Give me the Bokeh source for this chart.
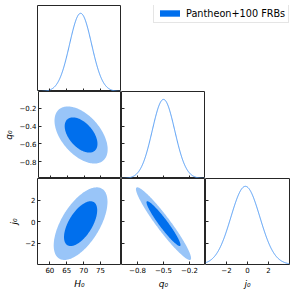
import numpy as np
from bokeh.plotting import figure
from bokeh.models import Range1d, LinearAxis, FixedTicker, Legend, LegendItem
from bokeh.layouts import column, row
from bokeh.embed import file_html
from bokeh.resources import INLINE

# ---------------- data ----------------
param_names = ["H0", "q0", "j0"]
param_labels = ["H₀", "q₀", "j₀"]
param_means = [69.1, -0.50, -0.20]
param_sigmas = [3.25, 0.13, 1.38]
corr_H0_q0 = -0.50
corr_H0_j0 = 0.60
corr_q0_j0 = -0.95
contour_probs = [0.95, 0.68]
param_ranges = [(56.35, 81.2), (-0.985, -0.015), (-4.0, 4.0)]
x_ticks = [[60, 65, 70, 75], [-0.8, -0.5, -0.2], [-2, 0, 2]]
x_tick_labels = [["60", "65", "70", "75"], ["−0.8", "−0.5", "−0.2"], ["−2", "0", "2"]]
y_ticks = [[60, 65, 70, 75], [-0.2, -0.4, -0.6, -0.8], [2, 0, -2]]
y_tick_labels = [["60", "65", "70", "75"], ["−0.2", "−0.4", "−0.6", "−0.8"], ["2", "0", "−2"]]
series_label = "Pantheon+100 FRBs"

# ---------------- styles ----------------
FONT = "DejaVu Sans"
TICK_FS = "7px"
LABEL_FS = "9px"
OUTER_COLOR = "#99C5F8"
INNER_COLOR = "#006FED"
LINE_COLOR = "#4d98f3"
FRAME_COLOR = "#262626"

LEFT, PW, BOTTOM, TOP, RIGHT = 37, 84, 27, 5, 1
PH = [86, 87, 86]

corr = {(0, 1): corr_H0_q0, (0, 2): corr_H0_j0, (1, 2): corr_q0_j0}


def new_fig(c, r, xr, yr):
    bl = LEFT if c == 0 else 0
    br = RIGHT if c == 2 else 0
    bt = TOP if r == 0 else 0
    bb = BOTTOM if r == 2 else 0
    p = figure(width=PW + bl + br, height=PH[r] + bt + bb,
               x_range=Range1d(*xr), y_range=Range1d(*yr),
               x_axis_type=None, y_axis_type=None,
               toolbar_location=None, output_backend="svg",
               min_border=0, min_border_left=bl, min_border_right=br,
               min_border_top=bt, min_border_bottom=bb)
    p.outline_line_color = FRAME_COLOR
    p.outline_line_width = 1
    p.background_fill_color = "white"
    p.border_fill_color = "white"
    return p


def add_axis(p, side, ticks, labels, show, label=None, y_range_name=None):
    kw = {}
    if y_range_name is not None:
        kw["y_range_name"] = y_range_name
    ax = LinearAxis(ticker=FixedTicker(ticks=ticks), **kw)
    ax.major_tick_in = 3
    ax.major_tick_out = 0
    ax.minor_tick_line_color = None
    ax.axis_line_color = None
    ax.major_tick_line_color = FRAME_COLOR
    ax.major_tick_line_width = 1
    if show:
        ax.major_label_overrides = {t: s for t, s in zip(ticks, labels)}
        ax.major_label_text_font = FONT
        ax.major_label_text_font_size = TICK_FS
        ax.major_label_text_color = "black"
        ax.major_label_standoff = 2
    else:
        ax.major_label_text_font_size = "0px"
        ax.major_label_text_color = None
        ax.major_label_standoff = 0
    if label is not None:
        ax.axis_label = label
        ax.axis_label_text_font = FONT
        ax.axis_label_text_font_size = LABEL_FS
        ax.axis_label_text_font_style = "italic"
        ax.axis_label_text_color = "black"
        ax.axis_label_standoff = 3
    p.add_layout(ax, side)
    return ax


def ellipse(i, j, prob):
    k = np.sqrt(-2.0 * np.log(1.0 - prob))
    si, sj = param_sigmas[i], param_sigmas[j]
    rho = corr[(i, j)]
    cov = np.array([[si * si, rho * si * sj], [rho * si * sj, sj * sj]])
    L = np.linalg.cholesky(cov)
    t = np.linspace(0, 2 * np.pi, 240)
    pts = (L @ np.vstack([np.cos(t), np.sin(t)])) * k
    return pts[0] + param_means[i], pts[1] + param_means[j]


figs = {}
for r in range(3):
    for c in range(r + 1):
        xlab = param_labels[c] if r == 2 else None
        ylab = param_labels[r] if (c == 0 and r > 0) else None
        if r == c:
            p = new_fig(c, r, param_ranges[c], (0, 1.1))
            xs = np.linspace(param_ranges[c][0], param_ranges[c][1], 400)
            ys = np.exp(-0.5 * ((xs - param_means[c]) / param_sigmas[c]) ** 2)
            p.line(xs, ys, line_color=LINE_COLOR, line_width=1)
            add_axis(p, "below", x_ticks[c], x_tick_labels[c], r == 2, label=xlab)
            if r > 0:
                p.extra_y_ranges = {"par": Range1d(*param_ranges[r])}
                add_axis(p, "left", y_ticks[r], y_tick_labels[r], False, y_range_name="par")
        else:
            p = new_fig(c, r, param_ranges[c], param_ranges[r])
            for prob, col in zip(contour_probs, [OUTER_COLOR, INNER_COLOR]):
                ex, ey = ellipse(c, r, prob)
                p.patch(ex, ey, fill_color=col, line_color=None)
            add_axis(p, "below", x_ticks[c], x_tick_labels[c], r == 2, label=xlab)
            add_axis(p, "left", y_ticks[r], y_tick_labels[r], c == 0, label=ylab)
        figs[(r, c)] = p

# legend panel (top right)
blank = figure(width=2 * PW + RIGHT, height=PH[0] + TOP, x_range=Range1d(0, 1), y_range=Range1d(0, 1),
               x_axis_type=None, y_axis_type=None, toolbar_location=None, output_backend="svg",
               min_border=0)
blank.outline_line_color = None
# legend proxy: a single filled square placed outside the visible range
proxy = blank.rect(x=[blank.x_range.end + 1], y=[blank.y_range.end + 1], width=[0.1], height=[0.1],
                   fill_color=INNER_COLOR, line_color=None)
legend = Legend(items=[LegendItem(label=series_label, renderers=[proxy])], location=(32, 68))
legend.label_text_font = FONT
legend.label_text_font_size = "9.7px"
legend.label_text_color = "black"
legend.padding = 3
legend.spacing = 0
legend.margin = 0
legend.glyph_width = 25
legend.glyph_height = 8
legend.label_height = 12
legend.label_standoff = 4
legend.border_line_color = "#cccccc"
legend.border_line_width = 1
legend.background_fill_color = "white"
legend.background_fill_alpha = 0.8
blank.add_layout(legend)

layout = column(
    row(figs[(0, 0)], blank),
    row(figs[(1, 0)], figs[(1, 1)]),
    row(figs[(2, 0)], figs[(2, 1)], figs[(2, 2)]),
)

open("out.html", "w").write(file_html(layout, INLINE))
